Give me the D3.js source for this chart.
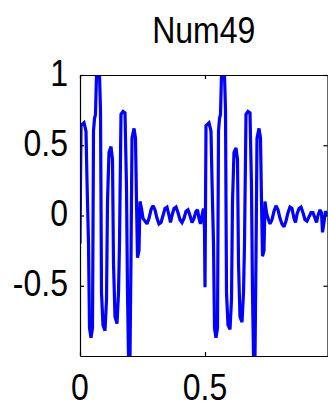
<!DOCTYPE html>
<html>
<head>
<meta charset="utf-8">
<script src="https://cdn.jsdelivr.net/npm/d3@7"></script>
<style>
  html, body { margin: 0; padding: 0; background: #fff; }
  svg { display: block; }
  text { font-family: "Liberation Sans", Arial, sans-serif; fill: #000; }
</style>
</head>
<body>
<script>
// ---- data ----
const chartTitle = "Num49";
// first burst + decaying tail (t = 0 .. 0.5)
const times1 = [
  0.000, 0.004, 0.016, 0.024, 0.028, 0.034, 0.038, 0.044, 0.050, 0.054,
  0.058, 0.062, 0.066, 0.078, 0.082, 0.086, 0.092, 0.100, 0.106, 0.110,
  0.116, 0.124, 0.130, 0.134, 0.140, 0.148, 0.154, 0.158, 0.164, 0.172,
  0.180, 0.186, 0.190, 0.194, 0.200, 0.204, 0.208, 0.216, 0.222, 0.226,
  0.230, 0.236, 0.240, 0.246, 0.252, 0.260, 0.268, 0.276, 0.284, 0.292,
  0.300, 0.308, 0.316, 0.324, 0.332, 0.340, 0.348, 0.356, 0.362, 0.368,
  0.376, 0.384, 0.392, 0.400, 0.408, 0.416, 0.424, 0.432, 0.440, 0.448,
  0.456, 0.464, 0.470, 0.476, 0.482, 0.488, 0.494, 0.498
];
const values1 = [
  -0.20, 0.64, 0.66, 0.60, 0.25, -0.20, -0.80, -0.87, -0.80, 0.60,
  0.69, 0.72, 1.00, 1.00, 0.75, -0.55, -0.78, -0.82, -0.60, 0.10,
  0.45, 0.49, 0.40, -0.34, -0.72, -0.77, -0.55, -0.20, 0.72, 0.74,
  0.73, 0.20, -0.55, -1.00, -1.00, -0.30, 0.55, 0.62, 0.55, 0.10,
  -0.30, -0.25, 0.10, 0.05, -0.02, -0.04, -0.06, -0.02, 0.04, 0.07,
  0.04, -0.02, -0.06, -0.05, 0.00, 0.05, 0.06, 0.00, -0.05, 0.00,
  0.05, 0.06, 0.02, -0.03, -0.05, -0.02, 0.03, 0.04, 0.00, -0.05,
  -0.02, 0.03, 0.04, -0.02, -0.06, 0.00, 0.05, -0.10
];
// second burst + decaying tail (t = 0.5 .. 0.99)
const times2 = [
  0.500, 0.504, 0.516, 0.524, 0.528, 0.534, 0.538, 0.544, 0.550, 0.554,
  0.558, 0.562, 0.566, 0.578, 0.582, 0.586, 0.592, 0.600, 0.606, 0.610,
  0.616, 0.624, 0.630, 0.634, 0.640, 0.648, 0.654, 0.658, 0.664, 0.672,
  0.680, 0.686, 0.690, 0.694, 0.700, 0.704, 0.708, 0.716, 0.722, 0.726,
  0.730, 0.736, 0.740, 0.746, 0.752, 0.760, 0.768, 0.776, 0.784, 0.792,
  0.800, 0.808, 0.816, 0.824, 0.832, 0.840, 0.848, 0.856, 0.862, 0.868,
  0.876, 0.884, 0.892, 0.900, 0.908, 0.916, 0.924, 0.932, 0.940, 0.946,
  0.952, 0.960, 0.966, 0.970, 0.976, 0.982, 0.990
];
const values2 = [
  -0.51, 0.64, 0.66, 0.60, 0.25, -0.20, -0.80, -0.87, -0.80, 0.60,
  0.69, 0.72, 1.00, 1.00, 0.75, -0.55, -0.78, -0.81, -0.60, 0.10,
  0.45, 0.48, 0.40, -0.34, -0.72, -0.76, -0.55, -0.20, 0.72, 0.74,
  0.73, 0.20, -0.55, -1.00, -1.00, -0.30, 0.55, 0.62, 0.55, 0.10,
  -0.29, -0.25, 0.10, 0.02, -0.02, -0.06, -0.03, 0.03, 0.07, 0.04,
  -0.02, -0.06, -0.08, -0.04, 0.02, 0.06, 0.05, -0.02, -0.05, 0.01,
  0.05, 0.06, 0.02, -0.03, -0.04, -0.01, 0.02, 0.02, -0.02, -0.05,
  0.00, 0.04, 0.02, -0.12, -0.05, 0.03, 0.00
];
const xTicks = [0, 0.5];
const xTickLabels = ["0", "0.5"];
const yTicks = [-0.5, 0, 0.5, 1];
const yTickLabels = ["-0.5", "0", "0.5", "1"];
const xDomain = [0, 0.99];
const yDomain = [-1, 1];

// ---- layout ----
const W = 328, H = 407;
const L = 80, R = 327.5, T = 75, B = 356;
const fontSize = 32, vStretch = 1.17;

const times = times1.concat(times2);
const values = values1.concat(values2);
const series = times.map((t, i) => ({ t, v: values[i] }));

const x = d3.scaleLinear().domain(xDomain).range([L, R]);
const y = d3.scaleLinear().domain(yDomain).range([B, T]);

const svg = d3.select("body").append("svg")
  .attr("width", W).attr("height", H);

svg.append("defs").append("clipPath").attr("id", "plotclip")
  .append("rect").attr("x", L).attr("y", T).attr("width", R - L).attr("height", B - T);

// signal line
svg.append("path")
  .datum(series)
  .attr("clip-path", "url(#plotclip)")
  .attr("fill", "none")
  .attr("stroke", "#0000ff")
  .attr("stroke-width", 3.2)
  .attr("stroke-linejoin", "miter")
  .attr("stroke-miterlimit", 2)
  .attr("d", d3.line().x(d => x(d.t)).y(d => y(d.v)));

// axes (ticks pointing inward, MATLAB style box)
const tick = 4;
svg.append("g").attr("transform", `translate(${L},0)`)
  .call(d3.axisLeft(y).tickValues(yTicks).tickSizeInner(-tick).tickSizeOuter(0).tickFormat(""));
svg.append("g").attr("transform", `translate(${R},0)`)
  .call(d3.axisRight(y).tickValues(yTicks).tickSizeInner(-tick).tickSizeOuter(0).tickFormat(""));
svg.append("g").attr("transform", `translate(0,${B})`)
  .call(d3.axisBottom(x).tickValues(xTicks).tickSizeInner(-tick).tickSizeOuter(0).tickFormat(""));
svg.append("g").attr("transform", `translate(0,${T})`)
  .call(d3.axisTop(x).tickValues(xTicks).tickSizeInner(-tick).tickSizeOuter(0).tickFormat(""));
svg.selectAll(".domain").attr("stroke", "#000").attr("stroke-width", 1.2);
svg.selectAll(".tick line").attr("stroke", "#000").attr("stroke-width", 1.2);

// y tick labels
svg.append("g").selectAll("text")
  .data(yTicks)
  .join("text")
  .attr("text-anchor", "end")
  .attr("font-size", fontSize)
  .attr("transform", d => `translate(${L - 12},${y(d) + 10.5}) scale(1,${vStretch})`)
  .text((d, i) => yTickLabels[i]);

// x tick labels
svg.append("g").selectAll("text")
  .data(xTicks)
  .join("text")
  .attr("text-anchor", "middle")
  .attr("font-size", fontSize)
  .attr("transform", d => `translate(${x(d)},${B + 44}) scale(1,${vStretch})`)
  .text((d, i) => xTickLabels[i]);

// title
svg.append("text")
  .attr("text-anchor", "middle")
  .attr("font-size", fontSize)
  .attr("transform", `translate(${(L + R) / 2},${43}) scale(1,${vStretch})`)
  .text(chartTitle);
</script>
</body>
</html>
